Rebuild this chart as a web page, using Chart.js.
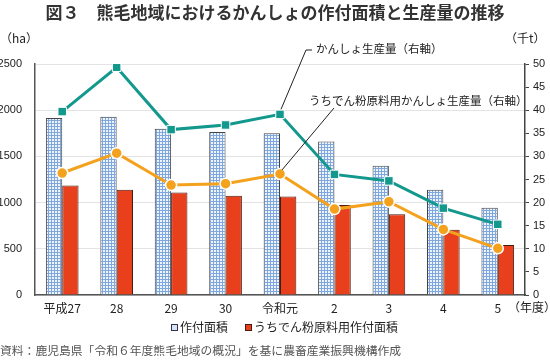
<!DOCTYPE html>
<html>
<head>
<meta charset="utf-8">
<script src="https://cdn.jsdelivr.net/npm/chart.js@4.4.1/dist/chart.umd.min.js"></script>
<style>
body{margin:0;background:#fff;font-family:"Noto Sans CJK JP",sans-serif;}
#wrap{position:relative;width:550px;height:361px;overflow:hidden;}
canvas{position:absolute;left:0;top:0;}
.t{position:absolute;white-space:nowrap;color:#222;line-height:1;}
.box{display:inline-block;width:7px;height:7px;margin-right:2px;vertical-align:1px;box-sizing:border-box;}
</style>
</head>
<body>
<div id="wrap">
<canvas id="c" width="550" height="361"></canvas>
<div class="t" style="left:0;width:550px;top:3px;text-align:center;font-size:17px;font-weight:bold;color:#333;">図３　熊毛地域におけるかんしょの作付面積と生産量の推移</div>
<div class="t" style="left:0;top:32px;font-size:12px;">（ha）</div>
<div class="t" style="left:505px;top:32px;font-size:12px;">（千t）</div>
<div class="t" style="left:316px;top:43px;font-size:11.5px;">かんしょ生産量（右軸）</div>
<div class="t" style="left:309px;top:95px;font-size:11.5px;">うちでん粉原料用かんしょ生産量（右軸）</div>
<div class="t" style="left:508px;top:301px;font-size:12px;">（年度）</div>
<div class="t" style="left:171px;top:321px;font-size:12px;"><span class="box" style="border:1px solid #334;background:#d6e5f7;"></span>作付面積</div>
<div class="t" style="left:245px;top:321px;font-size:12px;"><span class="box" style="border:1px solid #4a1a10;background:#e8401c;"></span>うちでん粉原料用作付面積</div>
<div class="t" style="left:0;top:344px;font-size:11.8px;color:#555;">資料：鹿児島県「令和６年度熊毛地域の概況」を基に農畜産業振興機構作成</div>
</div>
<script>
const years = ['平成27', '28', '29', '30', '令和元', '2', '3', '4', '5'];
const area = [1915, 1930, 1800, 1765, 1750, 1660, 1400, 1140, 945];          // 作付面積 (ha)
const starchArea = [1185, 1140, 1110, 1075, 1065, 975, 875, 705, 540];      // うちでん粉原料用作付面積 (ha)
const produce = [39.7, 49.3, 35.8, 36.8, 39.1, 26.1, 24.7, 18.8, 15.3];    // かんしょ生産量 (千t)
const starchProduce = [26.4, 30.7, 23.8, 24.1, 26.2, 18.6, 20.2, 14.2, 10.1]; // うちでん粉原料用 (千t)

const canvas = document.getElementById('c');
const ctx = canvas.getContext('2d');

// light blue grid fill for the area bars
function gridPattern(){
    const p = document.createElement('canvas');
    p.width = 3; p.height = 3;
    const g = p.getContext('2d');
    g.fillStyle = '#eef4fc'; g.fillRect(0, 0, 3, 3);
    g.fillStyle = '#7fa7de'; g.fillRect(0, 0, 3, 1); g.fillRect(0, 0, 1, 3);
    return ctx.createPattern(p, 'repeat');
}

// leader lines from the labels to the 令和元 points
const leaders = {
    id: 'leaders',
    afterDatasetsDraw(chart){
        const c = chart.ctx;
        const x = chart.scales.x.getPixelForValue(4);
        const y2 = chart.scales.y2;
        c.save();
        c.strokeStyle = '#222';
        c.lineWidth = 1;
        c.beginPath();
        c.moveTo(312, 50); c.lineTo(306, 50);
        c.lineTo(x + 1, y2.getPixelForValue(produce[4]) - 5);
        c.moveTo(334, 108);
        c.lineTo(x + 2, y2.getPixelForValue(starchProduce[4]) - 4);
        c.stroke();
        c.restore();
    }
};

const tickFont = {family: '"Liberation Sans", Arial, sans-serif', size: 11};

new Chart(ctx, {
    type: 'bar',
    data: {
        labels: years,
        datasets: [
            {type: 'line', label: 'かんしょ生産量', data: produce, yAxisID: 'y2', order: 0,
             borderColor: '#12988c', borderWidth: 3, pointStyle: 'rect', pointRadius: 6,
             pointBackgroundColor: '#12988c', pointBorderColor: '#fff', pointBorderWidth: 1},
            {type: 'line', label: 'うちでん粉原料用かんしょ生産量', data: starchProduce, yAxisID: 'y2', order: 0,
             borderColor: '#f4a21e', borderWidth: 3, pointStyle: 'circle', pointRadius: 5.5,
             pointBackgroundColor: '#f4a21e', pointBorderColor: '#fff', pointBorderWidth: 1.5},
            {label: '作付面積', data: area, yAxisID: 'y', order: 1,
             backgroundColor: gridPattern(), borderColor: '#444', borderWidth: 1,
             categoryPercentage: 0.6, barPercentage: 1.0},
            {label: 'うちでん粉原料用作付面積', data: starchArea, yAxisID: 'y', order: 1,
             backgroundColor: '#e8401c', borderColor: '#4a1a10', borderWidth: 1,
             categoryPercentage: 0.6, barPercentage: 1.0}
        ]
    },
    options: {
        responsive: false,
        animation: false,
        layout: {padding: {top: 64, bottom: 42, left: 0, right: 0}},
        plugins: {legend: {display: false}, tooltip: {enabled: false}},
        scales: {
            x: {
                grid: {display: false, drawTicks: false},
                border: {display: true, color: '#555', width: 1.5},
                ticks: {color: '#222', font: {family: '"Noto Sans CJK JP", sans-serif', size: 12, lineHeight: 1}, padding: 7, maxRotation: 0},
                afterFit(s){ s.height = 24; }
            },
            y: {
                position: 'left', min: 0, max: 2500,
                ticks: {stepSize: 500, color: '#222', font: tickFont, padding: 13, callback: v => String(v)},
                grid: {color: '#e3e3e3', drawTicks: false},
                border: {display: true, color: '#555', width: 1.5},
                afterFit(s){ s.width = 35; }
            },
            y2: {
                position: 'right', min: 0, max: 50,
                ticks: {stepSize: 5, color: '#222', font: tickFont, padding: 4},
                grid: {drawOnChartArea: false, drawTicks: true, tickLength: 4, color: '#444'},
                border: {display: true, color: '#444', width: 1.5},
                afterFit(s){ s.width = 25; }
            }
        }
    },
    plugins: [leaders]
});
</script>
</body>
</html>
